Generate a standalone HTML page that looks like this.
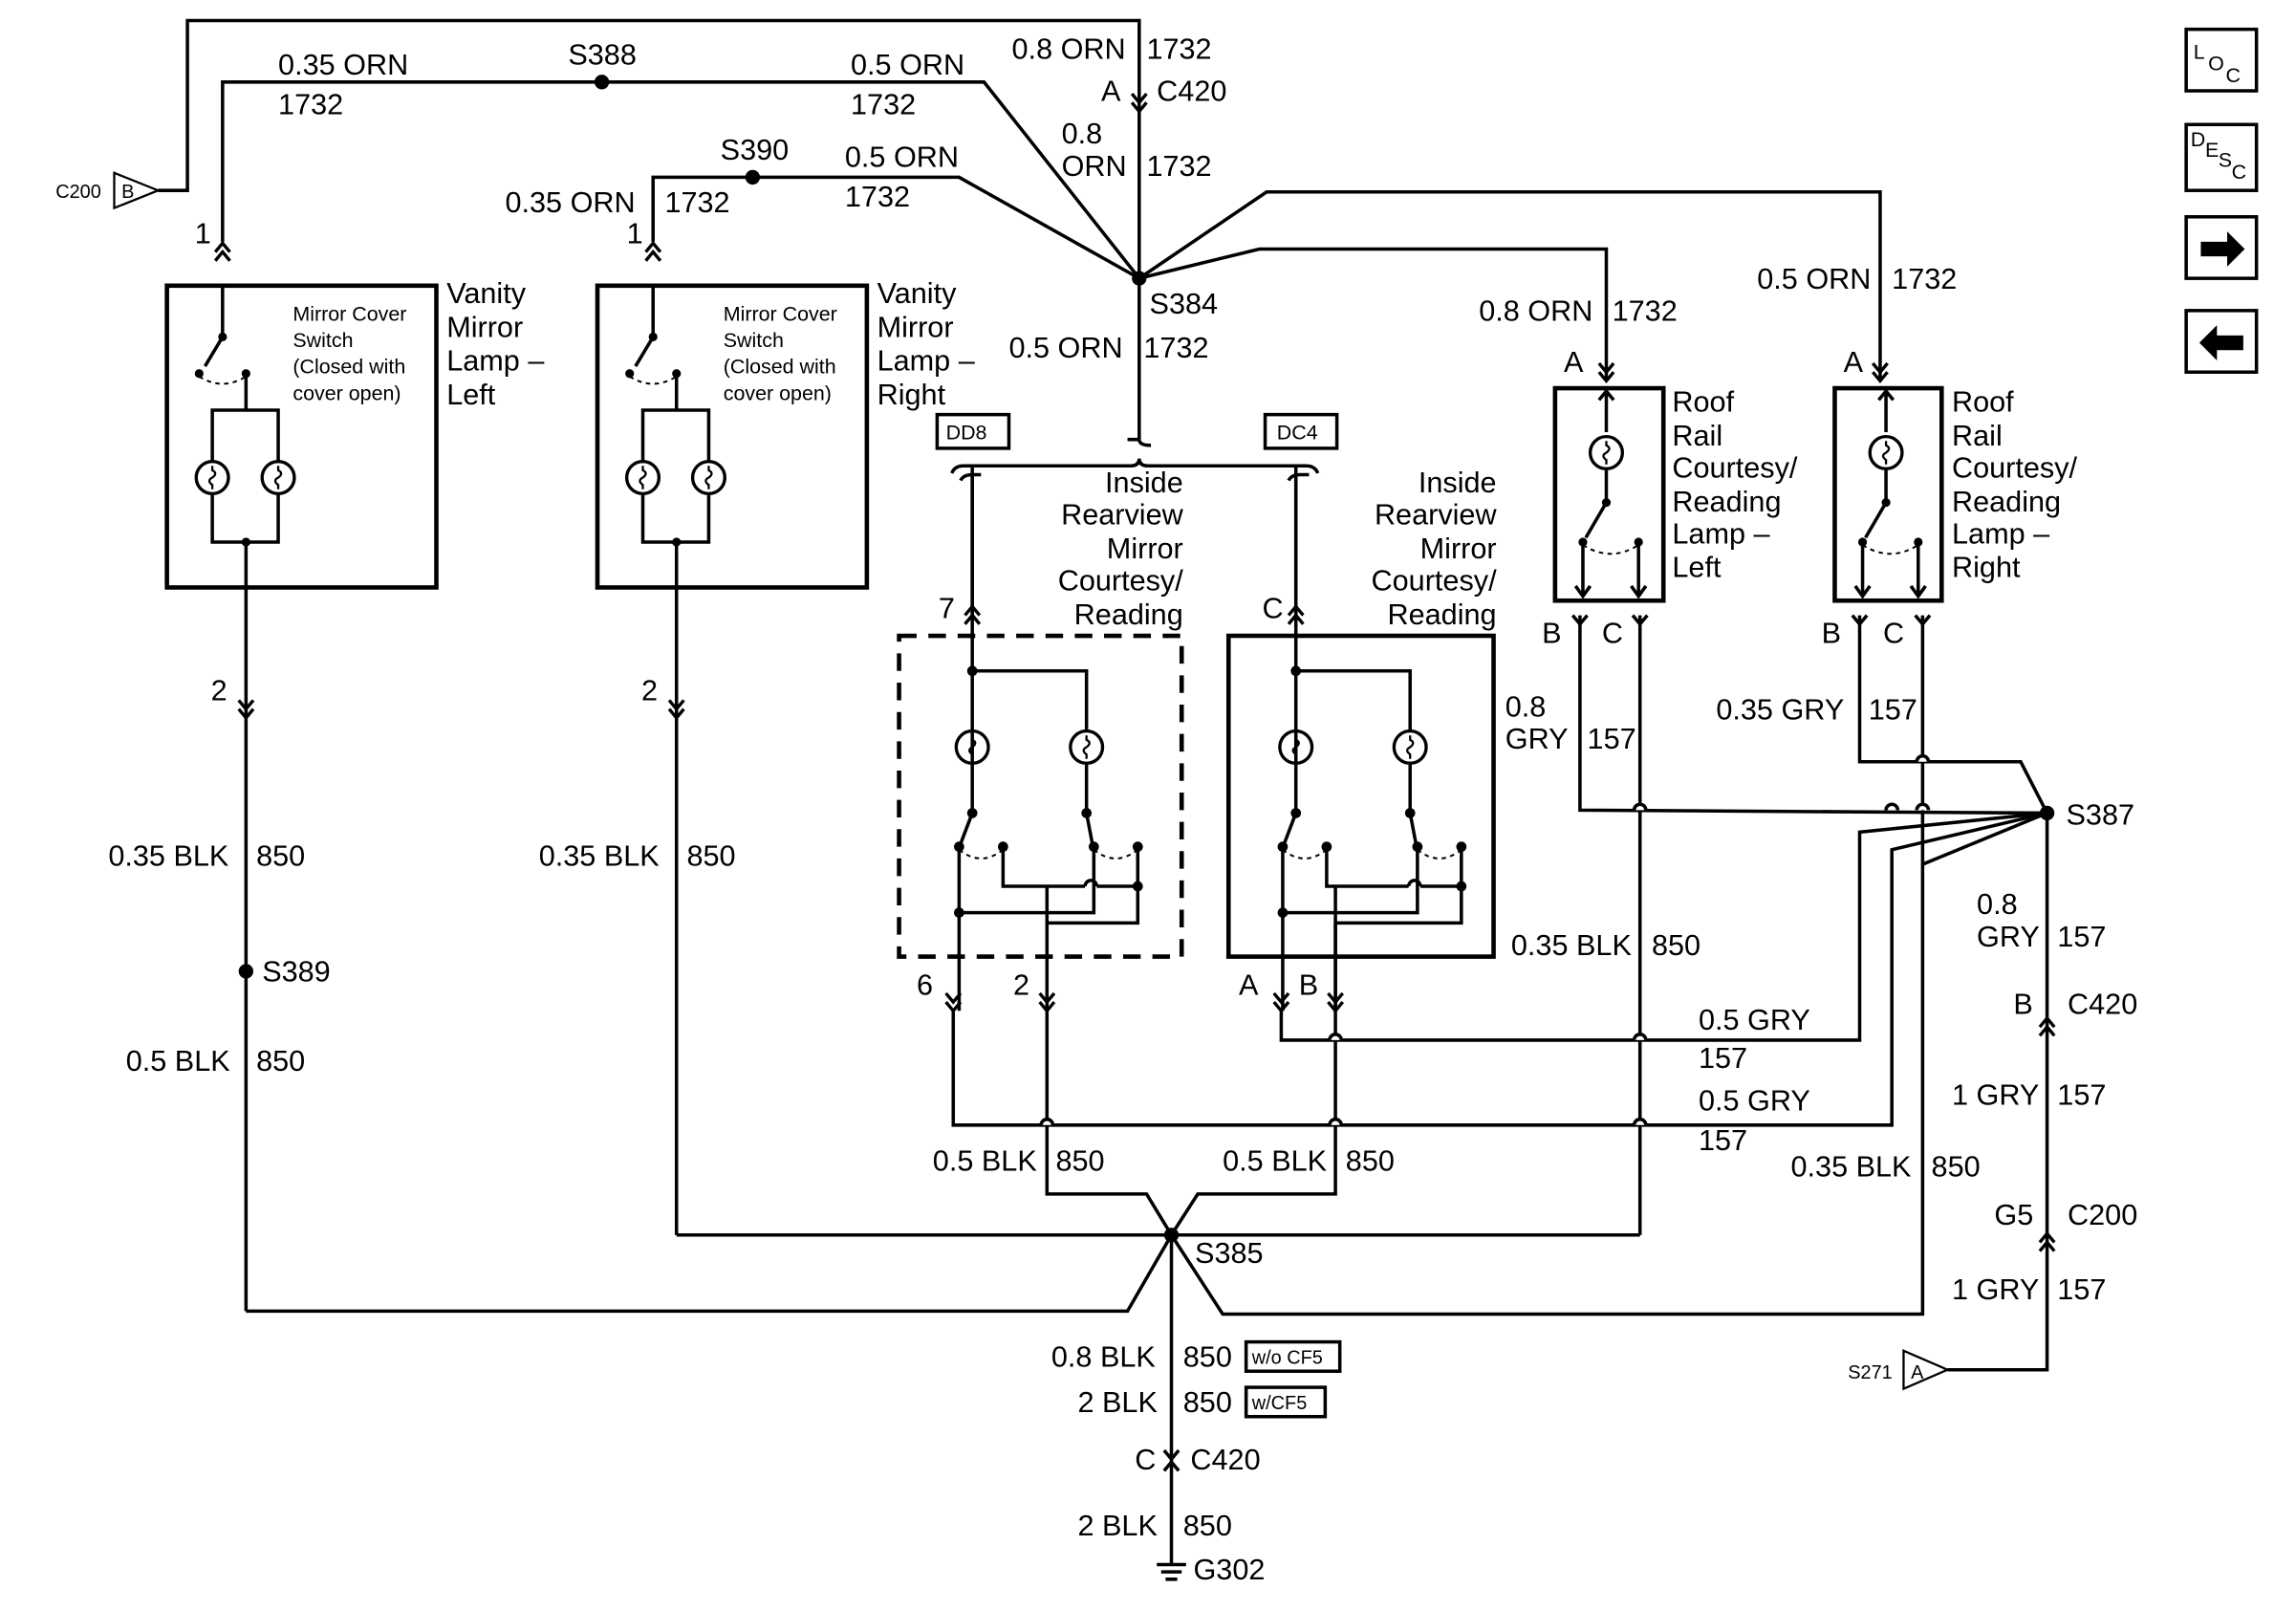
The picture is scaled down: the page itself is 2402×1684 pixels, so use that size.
<!DOCTYPE html>
<html><head><meta charset="utf-8"><style>
html,body{margin:0;padding:0;background:#fff}
svg{display:block}
text{font-family:"Liberation Sans",Arial,sans-serif;font-size:20px;fill:#000}
.s{font-size:13px}
.m{font-size:14px}
</style></head><body>
<svg width="2402" height="1684" viewBox="0 0 1568 1099" preserveAspectRatio="none" xmlns="http://www.w3.org/2000/svg">
<defs>
<g id="lamp"><circle cx="0" cy="0" r="11" fill="none" stroke="#000" stroke-width="2.2"/><path d="M0,-8 v3 q4,2 0,5 q-4,2 0,5 v3" fill="none" stroke="#000" stroke-width="1.5"/></g>
<g id="up"><path d="M-5,6 L0,0 L5,6 M-5,12 L0,6 L5,12" fill="none" stroke="#000" stroke-width="2.2"/></g>
<g id="dn"><path d="M-5,-6 L0,0 L5,-6 M-5,-12 L0,-6 L5,-12" fill="none" stroke="#000" stroke-width="2.2"/></g>
<g id="mir">
 <line x1="885" y1="318" x2="885" y2="555" stroke="#000" stroke-width="2.3"/>
 <circle cx="885" cy="458" r="3.5"/>
 <polyline points="885,458 963,458 963,498" fill="none" stroke="#000" stroke-width="2.3"/>
 <use href="#lamp" x="885" y="510"/><use href="#lamp" x="963" y="510"/>
 <line x1="963" y1="522" x2="963" y2="555" stroke="#000" stroke-width="2.3"/>
 <circle cx="885" cy="555" r="3.5"/><circle cx="963" cy="555" r="3.5"/>
 <line x1="885" y1="555" x2="877" y2="576" stroke="#000" stroke-width="2.3"/>
 <line x1="963" y1="555" x2="967" y2="576" stroke="#000" stroke-width="2.3"/>
 <circle cx="876" cy="578" r="3.5"/><circle cx="906" cy="578" r="3.5"/><circle cx="968" cy="578" r="3.5"/><circle cx="998" cy="578" r="3.5"/>
 <path d="M876,580 q15,12 30,0 M968,580 q15,12 30,0" fill="none" stroke="#000" stroke-width="1.3" stroke-dasharray="3,3"/>
 <polyline points="906,578 906,605 962,605" fill="none" stroke="#000" stroke-width="2.3"/>
 <path d="M962,605 a4,4 0 0 1 8,0" fill="none" stroke="#000" stroke-width="2.3"/>
 <polyline points="970,605 998,605 998,578" fill="none" stroke="#000" stroke-width="2.3"/>
 <circle cx="998" cy="605" r="3.5"/>
 <line x1="876" y1="578" x2="876" y2="690" stroke="#000" stroke-width="2.3"/>
 <circle cx="876" cy="623" r="3.5"/>
 <polyline points="876,623 968,623 968,578" fill="none" stroke="#000" stroke-width="2.3"/>
</g>
<g id="vis">
 <line x1="0" y1="0" x2="0" y2="35" stroke="#000" stroke-width="2.3"/>
 <circle cx="0" cy="35" r="3"/>
 <line x1="0" y1="35" x2="-12" y2="55" stroke="#000" stroke-width="2.3"/>
 <circle cx="-16" cy="60" r="3"/><circle cx="16" cy="60" r="3"/>
 <path d="M-16,62 q16,10 32,0" fill="none" stroke="#000" stroke-width="1.3" stroke-dasharray="3,3"/>
 <polyline points="16,60 16,85" fill="none" stroke="#000" stroke-width="2.3"/>
 <polyline points="-7,120 -7,85 38,85 38,120" fill="none" stroke="#000" stroke-width="2.3"/>
 <use href="#lamp" x="-7" y="131"/><use href="#lamp" x="38" y="131"/>
 <polyline points="-7,143 -7,175 38,175 38,143" fill="none" stroke="#000" stroke-width="2.3"/>
 <circle cx="16" cy="175" r="3"/>
</g>
<g id="roof">
 <line x1="0" y1="0" x2="0" y2="30" stroke="#000" stroke-width="2.3"/>
 <path d="M-5,8 L0,2 L5,8" fill="none" stroke="#000" stroke-width="2.3"/>
 <use href="#lamp" x="0" y="44"/>
 <line x1="0" y1="56" x2="0" y2="78" stroke="#000" stroke-width="2.3"/>
 <circle cx="0" cy="78" r="3"/>
 <line x1="0" y1="78" x2="-14" y2="102" stroke="#000" stroke-width="2.3"/>
 <circle cx="-16" cy="105" r="3"/><circle cx="22" cy="105" r="3"/>
 <path d="M-16,107 q19,12 38,0" fill="none" stroke="#000" stroke-width="1.3" stroke-dasharray="3,3"/>
 <line x1="-16" y1="105" x2="-16" y2="142" stroke="#000" stroke-width="2.3"/>
 <line x1="22" y1="105" x2="22" y2="142" stroke="#000" stroke-width="2.3"/>
 <path d="M-21,135 L-16,142 L-11,135 M17,135 L22,142 L27,135" fill="none" stroke="#000" stroke-width="2.3"/>
</g>
</defs>
<g fill="none" stroke="#000" stroke-width="2.3">
 <polyline points="108,130 128,130 128,14 778,14 778,300"/>
 <polyline points="152,165 152,56 672,56 778,190"/>
 <polyline points="446,165 446,121 655,121 778,190"/>
 <polyline points="778,190 865,131 1284,131 1284,260"/>
 <polyline points="778,190 860,170 1097,170 1097,260"/>
 <path d="M770,300 h8 M778,300 q0,4 8,4"/>
 <path d="M650,323 q2,-5 8,-5 H772 q6,0 6,-5 q0,5 6,5 H892 q6,0 8,5"/>
 <path d="M656,328 q2,-4 8,-4 h6 M880,328 q2,-4 8,-4 h6"/>
 <line x1="664" y1="324" x2="664" y2="420"/>
 <line x1="885" y1="324" x2="885" y2="420"/>
 <rect x="114" y="195" width="184" height="206" stroke-width="3"/>
 <rect x="408" y="195" width="184" height="206" stroke-width="3"/>
 <rect x="614" y="434" width="193" height="219" stroke-width="3" stroke-dasharray="12,8"/>
 <rect x="839" y="434" width="181" height="219" stroke-width="3"/>
 <rect x="1062" y="265" width="74" height="145" stroke-width="3"/>
 <rect x="1253" y="265" width="73" height="145" stroke-width="3"/>
 <line x1="168" y1="370" x2="168" y2="895"/>
 <line x1="462" y1="370" x2="462" y2="843"/>
 <polyline points="168,895 770,895 800,843"/>
 <polyline points="462,843 1120,843"/>
 <polyline points="912,605 912,630 912,815 818,815 800,843"/>
 <polyline points="715,605 715,815 783,815 800,843"/>
 <polyline points="1313,420 1313,897 835,897 800,843"/>
 <line x1="1120" y1="420" x2="1120" y2="843"/>
 <line x1="800" y1="843" x2="800" y2="1068"/>
 <polyline points="1079,420 1079,553 1398,555"/>
 <polyline points="1270,420 1270,520 1380,520 1398,555"/>
 <polyline points="1398,555 1270,568 1270,710 875,710 875,690"/>
 <polyline points="1398,555 1292,580 1292,768 651,768 651,690"/>
 <polyline points="1398,555 1313,590"/>
 <polyline points="1398,555 1398,935 1330,935"/>
 <polygon points="78,118 108,130 78,142" stroke-width="1.5"/>
 <polygon points="1300,922 1330,935 1300,948" stroke-width="1.5"/>
 <path d="M790,1068 h20 M793,1073 h14 M796,1078 h8"/>
</g>
<g fill="#fff" stroke="#000" stroke-width="2.3">
 <path d="M908,710 a4,4 0 0 1 8,0 M1116,710 a4,4 0 0 1 8,0 M711,768 a4,4 0 0 1 8,0 M908,768 a4,4 0 0 1 8,0 M1116,768 a4,4 0 0 1 8,0 M1116,553 a4,4 0 0 1 8,0 M1309,553 a4,4 0 0 1 8,0 M1309,520 a4,4 0 0 1 8,0 M1288,553 a4,4 0 0 1 8,0"/>
</g>
<use href="#mir"/>
<use href="#mir" transform="translate(-221,0)"/>
<line x1="912" y1="630" x2="912" y2="690" stroke="#000" stroke-width="2.3"/>
<polyline points="998,605 998,630 912,630" fill="none" stroke="#000" stroke-width="2.3"/>
<polyline points="777,605 777,630 715,630" fill="none" stroke="#000" stroke-width="2.3"/>
<use href="#vis" x="152" y="195"/>
<use href="#vis" x="446" y="195"/>
<use href="#roof" x="1097" y="265"/>
<use href="#roof" x="1288" y="265"/>
<use href="#up" x="152" y="166"/><use href="#up" x="446" y="166"/>
<use href="#dn" x="168" y="490"/><use href="#dn" x="462" y="490"/>
<use href="#up" x="664" y="414"/><use href="#up" x="885" y="414"/>
<use href="#dn" x="651" y="690"/><use href="#dn" x="715" y="690"/>
<use href="#dn" x="875" y="690"/><use href="#dn" x="912" y="690"/>
<use href="#dn" x="778" y="76"/><use href="#up" x="1398" y="695"/><use href="#up" x="1398" y="842"/>
<use href="#dn" x="1097" y="260"/><use href="#dn" x="1284" y="260"/>
<path d="M1074,420 l5,6 l5,-6 M1115,420 l5,6 l5,-6 M1265,420 l5,6 l5,-6 M1308,420 l5,6 l5,-6 M795,990 l5,6 l5,-6 M795,1004 l5,-6 l5,6" fill="none" stroke="#000" stroke-width="2.3"/>
<circle cx="411" cy="56" r="5"/><circle cx="514" cy="121" r="5"/><circle cx="778" cy="190" r="5"/>
<circle cx="168" cy="663" r="5"/><circle cx="800" cy="843" r="5"/><circle cx="1398" cy="555" r="5"/>
<g fill="none" stroke="#000" stroke-width="2.3">
<rect x="640" y="283" width="49" height="23"/><rect x="864" y="283" width="49" height="23"/>
<rect x="851" y="916" width="64" height="20"/><rect x="851" y="947" width="54" height="20"/>
<rect x="1493" y="20" width="48" height="42"/><rect x="1493" y="85" width="48" height="45"/>
<rect x="1493" y="148" width="48" height="42"/><rect x="1493" y="212" width="48" height="42"/>
</g>
<path d="M1503,165 h18 v-7 l12,12 l-12,12 v-7 h-18z M1532,229 h-18 v-7 l-12,12 l12,12 v-7 h18z"/>
<text x="38" y="135" class="s">C200</text><text x="83" y="135" class="s">B</text>
<text x="1262" y="941" class="s">S271</text><text x="1305" y="941" class="s">A</text>
<text x="190" y="51">0.35 ORN</text><text x="190" y="78">1732</text>
<text x="388" y="44">S388</text>
<text x="581" y="51">0.5 ORN</text><text x="581" y="78">1732</text>
<text x="691" y="40">0.8 ORN</text><text x="783" y="40">1732</text>
<text x="752" y="69">A</text><text x="790" y="69">C420</text>
<text x="725" y="98">0.8</text><text x="725" y="120">ORN</text><text x="783" y="120">1732</text>
<text x="492" y="109">S390</text>
<text x="577" y="114">0.5 ORN</text><text x="577" y="141">1732</text>
<text x="345" y="145">0.35 ORN</text><text x="454" y="145">1732</text>
<text x="133" y="166">1</text><text x="428" y="166">1</text>
<text x="785" y="214">S384</text>
<text x="689" y="244">0.5 ORN</text><text x="781" y="244">1732</text>
<text x="1010" y="219">0.8 ORN</text><text x="1101" y="219">1732</text>
<text x="1200" y="197">0.5 ORN</text><text x="1292" y="197">1732</text>
<text x="1068" y="254">A</text><text x="1259" y="254">A</text>
<text x="305" y="207">Vanity</text><text x="305" y="230">Mirror</text><text x="305" y="253">Lamp –</text><text x="305" y="276">Left</text>
<text x="599" y="207">Vanity</text><text x="599" y="230">Mirror</text><text x="599" y="253">Lamp –</text><text x="599" y="276">Right</text>
<text x="200" y="219" class="m">Mirror Cover</text><text x="200" y="237" class="m">Switch</text><text x="200" y="255" class="m">(Closed with</text><text x="200" y="273" class="m">cover open)</text>
<text x="494" y="219" class="m">Mirror Cover</text><text x="494" y="237" class="m">Switch</text><text x="494" y="255" class="m">(Closed with</text><text x="494" y="273" class="m">cover open)</text>
<text x="646" y="300" class="m">DD8</text><text x="872" y="300" class="m">DC4</text>
<g text-anchor="end"><text x="808" y="336">Inside</text><text x="808" y="358">Rearview</text><text x="808" y="381">Mirror</text><text x="808" y="403">Courtesy/</text><text x="808" y="426">Reading</text>
<text x="1022" y="336">Inside</text><text x="1022" y="358">Rearview</text><text x="1022" y="381">Mirror</text><text x="1022" y="403">Courtesy/</text><text x="1022" y="426">Reading</text></g>
<text x="1142" y="281">Roof</text><text x="1142" y="304">Rail</text><text x="1142" y="326">Courtesy/</text><text x="1142" y="349">Reading</text><text x="1142" y="371">Lamp –</text><text x="1142" y="394">Left</text>
<text x="1333" y="281">Roof</text><text x="1333" y="304">Rail</text><text x="1333" y="326">Courtesy/</text><text x="1333" y="349">Reading</text><text x="1333" y="371">Lamp –</text><text x="1333" y="394">Right</text>
<text x="641" y="422">7</text><text x="862" y="422">C</text>
<text x="1053" y="439">B</text><text x="1094" y="439">C</text><text x="1244" y="439">B</text><text x="1286" y="439">C</text>
<text x="144" y="478">2</text><text x="438" y="478">2</text>
<text x="1028" y="489">0.8</text><text x="1028" y="511">GRY</text><text x="1084" y="511">157</text>
<text x="1172" y="491">0.35 GRY</text><text x="1276" y="491">157</text>
<text x="1411" y="563">S387</text>
<text x="74" y="591">0.35 BLK</text><text x="175" y="591">850</text>
<text x="368" y="591">0.35 BLK</text><text x="469" y="591">850</text>
<text x="1350" y="624">0.8</text><text x="1350" y="646">GRY</text><text x="1405" y="646">157</text>
<text x="1032" y="652">0.35 BLK</text><text x="1128" y="652">850</text>
<text x="179" y="670">S389</text>
<text x="626" y="679">6</text><text x="692" y="679">2</text><text x="846" y="679">A</text><text x="887" y="679">B</text>
<text x="1375" y="692">B</text><text x="1412" y="692">C420</text>
<text x="1160" y="703">0.5 GRY</text><text x="1160" y="729">157</text>
<text x="86" y="731">0.5 BLK</text><text x="175" y="731">850</text>
<text x="1333" y="754">1 GRY</text><text x="1405" y="754">157</text>
<text x="1160" y="758">0.5 GRY</text><text x="1160" y="785">157</text>
<text x="637" y="799">0.5 BLK</text><text x="721" y="799">850</text>
<text x="835" y="799">0.5 BLK</text><text x="919" y="799">850</text>
<text x="1223" y="803">0.35 BLK</text><text x="1319" y="803">850</text>
<text x="1362" y="836">G5</text><text x="1412" y="836">C200</text>
<text x="816" y="862">S385</text>
<text x="1333" y="887">1 GRY</text><text x="1405" y="887">157</text>
<text x="718" y="933">0.8 BLK</text><text x="808" y="933">850</text><text x="855" y="931" class="s">w/o CF5</text>
<text x="736" y="964">2 BLK</text><text x="808" y="964">850</text><text x="855" y="962" class="s">w/CF5</text>
<text x="775" y="1003">C</text><text x="813" y="1003">C420</text>
<text x="736" y="1048">2 BLK</text><text x="808" y="1048">850</text>
<text x="815" y="1078">G302</text>
<text x="1498" y="40" class="m">L</text><text x="1508" y="48" class="m">O</text><text x="1520" y="56" class="m">C</text>
<text x="1496" y="100" class="m">D</text><text x="1506" y="107" class="m">E</text><text x="1515" y="114" class="m">S</text><text x="1524" y="122" class="m">C</text>
</svg>
</body></html>
